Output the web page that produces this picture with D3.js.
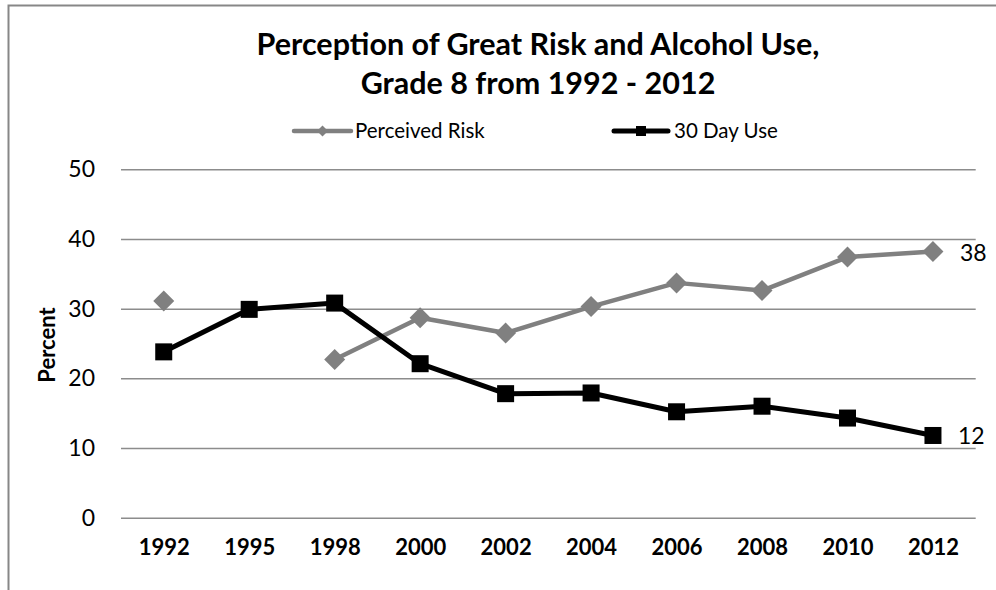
<!DOCTYPE html>
<html>
<head>
<meta charset="utf-8">
<script src="https://cdn.jsdelivr.net/npm/d3@7/dist/d3.min.js"></script>
<style>
  html, body { margin: 0; padding: 0; background: #fff; }
  svg { display: block; font-family: Lato, "Open Sans", sans-serif; }
</style>
</head>
<body>
<svg id="chart" width="996" height="590"></svg>
<script>
const categories = ["1992", "1995", "1998", "2000", "2002", "2004", "2006", "2008", "2010", "2012"];
const perceivedRisk = [31.1, null, 22.7, 28.7, 26.5, 30.3, 33.7, 32.6, 37.4, 38.2];
const dayUse30 = [23.8, 29.9, 30.8, 22.1, 17.8, 17.9, 15.2, 16.0, 14.3, 11.8];
const yTicks = [0, 10, 20, 30, 40, 50];
const seriesNames = ["Perceived Risk", "30 Day Use"];
const endLabels = ["38", "12"];
const titleLines = ["Perception of Great Risk and Alcohol Use,", "Grade 8 from 1992 - 2012"];

const svg = d3.select("#chart");
const pLeft = 121, pRight = 975.7, pTop = 169.3, pBottom = 517.7;

const x = d3.scalePoint().domain(categories).range([pLeft, pRight]).padding(0.5);
const y = d3.scaleLinear().domain([0, 50]).range([pBottom, pTop]);

// outer chart border (only top & left visible inside window)
svg.append("rect")
  .attr("x", 8.5).attr("y", 5.5).attr("width", 1100).attr("height", 700)
  .attr("fill", "none").attr("stroke", "#878787").attr("stroke-width", 2);

// title
svg.append("text")
  .attr("text-anchor", "middle")
  .attr("font-weight", "bold").attr("font-size", 30.5).attr("fill", "#000")
  .selectAll("tspan").data(titleLines).join("tspan")
  .attr("x", 538).attr("y", (d, i) => 55 + i * 39)
  .text(d => d);

// gridlines
const grid = svg.append("g")
  .attr("transform", `translate(${pLeft},0)`)
  .call(d3.axisLeft(y).tickValues(yTicks).tickSize(-(pRight - pLeft)).tickFormat(""));
grid.select(".domain").remove();
grid.selectAll(".tick line").attr("stroke", "#8c8c8c").attr("stroke-width", 1.5);

// y tick labels
const yAxis = svg.append("g")
  .attr("transform", `translate(${pLeft},0)`)
  .call(d3.axisLeft(y).tickValues(yTicks).tickSize(0).tickPadding(26));
yAxis.select(".domain").remove();
yAxis.selectAll("text").attr("font-size", 23).attr("fill", "#000")
  .attr("font-family", "Lato, sans-serif");

// x labels
const xAxis = svg.append("g")
  .attr("transform", `translate(0,${pBottom})`)
  .call(d3.axisBottom(x).tickSize(0).tickPadding(22));
xAxis.select(".domain").remove();
xAxis.selectAll("text").attr("font-size", 22).attr("font-weight", "bold").attr("fill", "#000")
  .attr("font-family", "Lato, sans-serif");

// y axis title
svg.append("text")
  .attr("transform", `translate(55,345) rotate(-90)`)
  .attr("text-anchor", "middle")
  .attr("font-weight", "bold").attr("font-size", 22).attr("fill", "#000")
  .text("Percent");

const grayColor = "#808080";
const blackColor = "#000000";

const riskData = categories.map((c, i) => ({ c, v: perceivedRisk[i] }));
const useData = categories.map((c, i) => ({ c, v: dayUse30[i] }));

const line = d3.line()
  .defined(d => d.v !== null)
  .x(d => x(d.c)).y(d => y(d.v));

svg.append("path").datum(riskData)
  .attr("d", line).attr("fill", "none")
  .attr("stroke", grayColor).attr("stroke-width", 4.5).attr("stroke-linejoin", "round");

svg.append("path").datum(useData)
  .attr("d", line).attr("fill", "none")
  .attr("stroke", blackColor).attr("stroke-width", 5).attr("stroke-linejoin", "round");

const diamond = (cx, cy, r) => `M${cx},${cy - r}L${cx + r},${cy}L${cx},${cy + r}L${cx - r},${cy}Z`;

svg.append("g").selectAll("path").data(riskData.filter(d => d.v !== null)).join("path")
  .attr("d", d => diamond(x(d.c), y(d.v), 10.5))
  .attr("fill", grayColor);

svg.append("g").selectAll("rect").data(useData).join("rect")
  .attr("x", d => x(d.c) - 8.5).attr("y", d => y(d.v) - 8.5)
  .attr("width", 17).attr("height", 17)
  .attr("fill", blackColor);

// end labels
const lastCat = categories[categories.length - 1];
svg.append("text")
  .attr("x", x(lastCat) + 27).attr("y", y(perceivedRisk[perceivedRisk.length - 1]) + 9)
  .attr("font-size", 23).attr("fill", "#000").text(endLabels[0]);
svg.append("text")
  .attr("x", x(lastCat) + 25).attr("y", y(dayUse30[dayUse30.length - 1]) + 9)
  .attr("font-size", 23).attr("fill", "#000").text(endLabels[1]);

// legend
const legendItems = [
  { name: seriesNames[0], color: grayColor, x1: 294, x2: 351, tx: 355, marker: "diamond", sw: 4.5 },
  { name: seriesNames[1], color: blackColor, x1: 614, x2: 668, tx: 674, marker: "square", sw: 5 }
];
const ly = 131;
const lg = svg.append("g").selectAll("g").data(legendItems).join("g");
lg.append("line")
  .attr("x1", d => d.x1).attr("x2", d => d.x2).attr("y1", ly).attr("y2", ly)
  .attr("stroke", d => d.color).attr("stroke-width", d => d.sw).attr("stroke-linecap", "round");
lg.filter(d => d.marker === "diamond").append("path")
  .attr("d", d => diamond((d.x1 + d.x2) / 2, ly, 5.5)).attr("fill", d => d.color);
lg.filter(d => d.marker === "square").append("rect")
  .attr("x", d => (d.x1 + d.x2) / 2 - 5).attr("y", ly - 5).attr("width", 10).attr("height", 10)
  .attr("fill", d => d.color);
lg.append("text")
  .attr("x", d => d.tx).attr("y", ly + 7)
  .attr("font-size", 20.5).attr("fill", "#000")
  .text(d => d.name);
</script>
</body>
</html>
